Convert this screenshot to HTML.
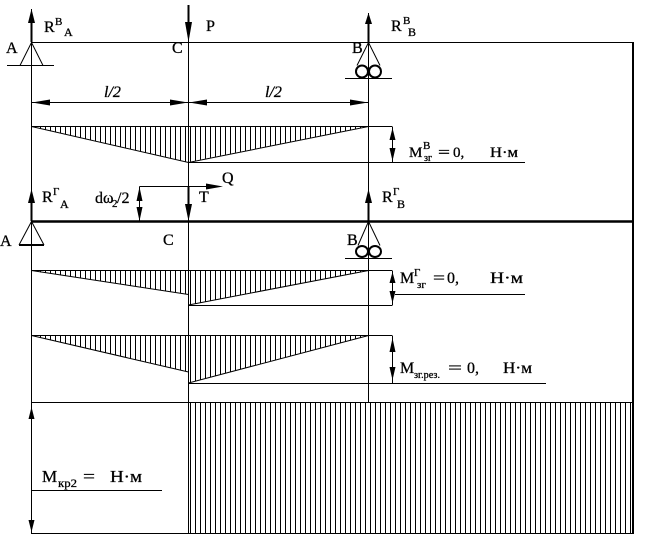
<!DOCTYPE html>
<html><head><meta charset="utf-8"><style>
html,body{margin:0;padding:0;background:#fff;}
svg{display:block;}
text{font-family:"Liberation Serif","DejaVu Serif",serif;fill:#000;stroke:#000;stroke-width:0.3;}
</style></head><body>
<svg width="645" height="547" viewBox="0 0 645 547" xmlns="http://www.w3.org/2000/svg">
<defs>
<pattern id="h" patternUnits="userSpaceOnUse" x="0" y="0" width="5" height="10">
<rect x="0" y="0" width="1" height="10" fill="#000"/>
</pattern>
</defs>
<rect width="645" height="547" fill="#fff"/>

<!-- hatched fills -->
<polygon points="32,127 188,162 368,127" fill="url(#h)"/>
<polygon points="32,271 188,294 188,305 368,271" fill="url(#h)"/>
<polygon points="32,336 188,372 188,383 368,336" fill="url(#h)"/>
<rect x="189" y="403" width="444" height="130" fill="url(#h)"/>

<g stroke="#000" stroke-width="1" fill="none">
<!-- verticals -->
<line x1="31.5" y1="9" x2="31.5" y2="534"/>
<line x1="188.5" y1="5" x2="188.5" y2="534"/>
<line x1="368.5" y1="13" x2="368.5" y2="402"/>
<line x1="633" y1="42" x2="633" y2="534" stroke-width="2"/>
<!-- top beam -->
<line x1="31" y1="42.5" x2="634" y2="42.5"/>
<!-- support A1 -->
<line x1="7" y1="65.5" x2="54" y2="65.5"/>
<polyline points="20,65.5 31.5,42.5 43,65.5"/>
<!-- support B1 -->
<polyline points="357,65.5 368.5,42.5 380,65.5"/>
<circle cx="362" cy="71.5" r="6" stroke-width="2"/>
<circle cx="375" cy="71.5" r="6" stroke-width="2"/>
<line x1="345" y1="78.5" x2="392" y2="78.5"/>
<!-- dimension line -->
<line x1="31.5" y1="102.5" x2="368.5" y2="102.5"/>
<!-- M^B diagram -->
<line x1="31.5" y1="126.5" x2="392" y2="126.5"/>
<line x1="188.5" y1="162.5" x2="525" y2="162.5"/>
<polyline points="31.5,126.5 188.5,162.5 368.5,126.5"/>
<line x1="392.5" y1="126.5" x2="392.5" y2="162.5"/>
<!-- Q line -->
<line x1="139.5" y1="186.5" x2="210" y2="186.5"/>
<line x1="139.5" y1="186.5" x2="139.5" y2="221"/>
<!-- beam 2 -->
<line x1="31" y1="221.5" x2="634" y2="221.5" stroke-width="2.5"/>
<!-- support A2 -->
<polyline points="19,245 31.5,221.5 44,245"/>
<line x1="19" y1="245" x2="44" y2="245" stroke-width="2"/>
<!-- support B2 -->
<polyline points="358,245.5 368.5,221.5 380,245.5"/>
<ellipse cx="362" cy="251.5" rx="6" ry="5.5" stroke-width="2"/>
<ellipse cx="375" cy="251.5" rx="6" ry="5.5" stroke-width="2"/>
<line x1="345" y1="258.5" x2="392" y2="258.5"/>
<!-- M^Г diagram -->
<line x1="31.5" y1="270.5" x2="392" y2="270.5"/>
<line x1="188.5" y1="305.5" x2="392" y2="305.5"/>
<line x1="395" y1="294.5" x2="525" y2="294.5"/>
<line x1="31.5" y1="270.5" x2="188.5" y2="294.5"/>
<line x1="188.5" y1="305" x2="368.5" y2="270.5"/>
<line x1="392.5" y1="270.5" x2="392.5" y2="305.5"/>
<!-- рез diagram -->
<line x1="31.5" y1="335.5" x2="392" y2="335.5"/>
<line x1="188.5" y1="383.5" x2="546" y2="383.5"/>
<line x1="31.5" y1="335.5" x2="188.5" y2="372"/>
<line x1="188.5" y1="383" x2="368.5" y2="335.5"/>
<line x1="392.5" y1="335.5" x2="392.5" y2="383.5"/>
<!-- torque -->
<line x1="31" y1="402.5" x2="634" y2="402.5"/>
<line x1="31" y1="533.5" x2="634" y2="533.5"/>
<line x1="31.5" y1="490.5" x2="162" y2="490.5"/>
<!-- thick arrow shafts -->
<line x1="31.5" y1="22" x2="31.5" y2="42" stroke-width="2"/>
<line x1="188.5" y1="5" x2="188.5" y2="24" stroke-width="2"/>
<line x1="368.5" y1="23" x2="368.5" y2="42" stroke-width="2"/>
<line x1="31.5" y1="202" x2="31.5" y2="221" stroke-width="2"/>
<line x1="368.5" y1="202" x2="368.5" y2="221" stroke-width="2"/>
<line x1="188.5" y1="187" x2="188.5" y2="206" stroke-width="2"/>
</g>

<!-- arrowheads -->
<g fill="#000" stroke="none">
<polygon points="31.5,9 28,23 35,23"/>
<polygon points="188.5,42 185,22 192,22"/>
<polygon points="368.5,13 365,24 372,24"/>
<polygon points="32,102.5 50,99.5 50,105.5"/>
<polygon points="188,102.5 170,99.5 170,105.5"/>
<polygon points="189,102.5 207,99.5 207,105.5"/>
<polygon points="368,102.5 350,99.5 350,105.5"/>
<polygon points="392.5,128 389.5,140 395.5,140"/>
<polygon points="392.5,161 389.5,148 395.5,148"/>
<polygon points="31.5,189 28,203 35,203"/>
<polygon points="368.5,189 365,203 372,203"/>
<polygon points="139.5,187 136.5,201 142.5,201"/>
<polygon points="139.5,221 136.5,207 142.5,207"/>
<polygon points="188.5,221 185,204 192,204"/>
<polygon points="223,186.5 206,183.5 206,189.5"/>
<polygon points="392.5,272 389.5,283 395.5,283"/>
<polygon points="392.5,303 389.5,291 395.5,291"/>
<polygon points="392.5,338 389.5,352 395.5,352"/>
<polygon points="392.5,380 389.5,367 395.5,367"/>
<polygon points="31.5,407 28.5,419 34.5,419"/>
<polygon points="31.5,532 28.5,520 34.5,520"/>
</g>

<!-- labels top -->
<text x="44" y="32" font-size="16">R</text>
<text x="55" y="25" font-size="11">В</text>
<text x="64" y="36" font-size="12">A</text>
<text x="6" y="53" font-size="16">A</text>
<text x="172" y="53" font-size="16">C</text>
<text x="206" y="31" font-size="16">P</text>
<text x="352" y="53" font-size="16">B</text>
<text x="391" y="31" font-size="16">R</text>
<text x="403" y="24" font-size="11">В</text>
<text x="408" y="36" font-size="12">B</text>
<text x="104" y="97" font-size="16" font-style="italic">l/2</text>
<text x="265" y="97" font-size="16" font-style="italic">l/2</text>

<!-- M^B label -->
<text x="409" y="157" font-size="15">M</text>
<text x="423" y="149" font-size="11">В</text>
<text x="424" y="161" font-size="10">зг</text>
<text x="438" y="157" font-size="15" textLength="12" lengthAdjust="spacingAndGlyphs">=</text>
<text x="453" y="157" font-size="15">0,</text>
<text x="490" y="157" font-size="15" textLength="28" lengthAdjust="spacingAndGlyphs">Н·м</text>

<!-- second level labels -->
<text x="42" y="202" font-size="16">R</text>
<text x="53" y="195" font-size="11">Г</text>
<text x="60" y="208" font-size="12">A</text>
<text x="95" y="203" font-size="16">dω</text>
<text x="112" y="207" font-size="11">2</text>
<text x="117" y="203" font-size="16">/2</text>
<text x="199" y="202" font-size="16">T</text>
<text x="222" y="183" font-size="16">Q</text>
<text x="382" y="202" font-size="16">R</text>
<text x="393" y="195" font-size="11">Г</text>
<text x="397" y="208" font-size="12">B</text>
<text x="0" y="246" font-size="16">A</text>
<text x="163" y="245" font-size="16">C</text>
<text x="347" y="245" font-size="16">B</text>

<!-- M^Г label -->
<text x="400" y="283" font-size="16">M</text>
<text x="414" y="276" font-size="11">Г</text>
<text x="417" y="288" font-size="11">зг</text>
<text x="433" y="283" font-size="16" textLength="12" lengthAdjust="spacingAndGlyphs">=</text>
<text x="447" y="283" font-size="16">0,</text>
<text x="490" y="283" font-size="16" textLength="33" lengthAdjust="spacingAndGlyphs">Н·м</text>

<!-- M рез label -->
<text x="400" y="373" font-size="16">M</text>
<text x="414" y="378" font-size="11" textLength="26" lengthAdjust="spacingAndGlyphs">зг.рез.</text>
<text x="448" y="373" font-size="16" textLength="14" lengthAdjust="spacingAndGlyphs">=</text>
<text x="467" y="373" font-size="16">0,</text>
<text x="503" y="373" font-size="16" textLength="29" lengthAdjust="spacingAndGlyphs">Н·м</text>

<!-- Mкр2 label -->
<text x="42" y="482" font-size="17">M</text>
<text x="58" y="487" font-size="12" textLength="19" lengthAdjust="spacingAndGlyphs">кр2</text>
<text x="83" y="482" font-size="17" textLength="12" lengthAdjust="spacingAndGlyphs">=</text>
<text x="110" y="482" font-size="17" textLength="32" lengthAdjust="spacingAndGlyphs">Н·м</text>
</svg>
</body></html>
